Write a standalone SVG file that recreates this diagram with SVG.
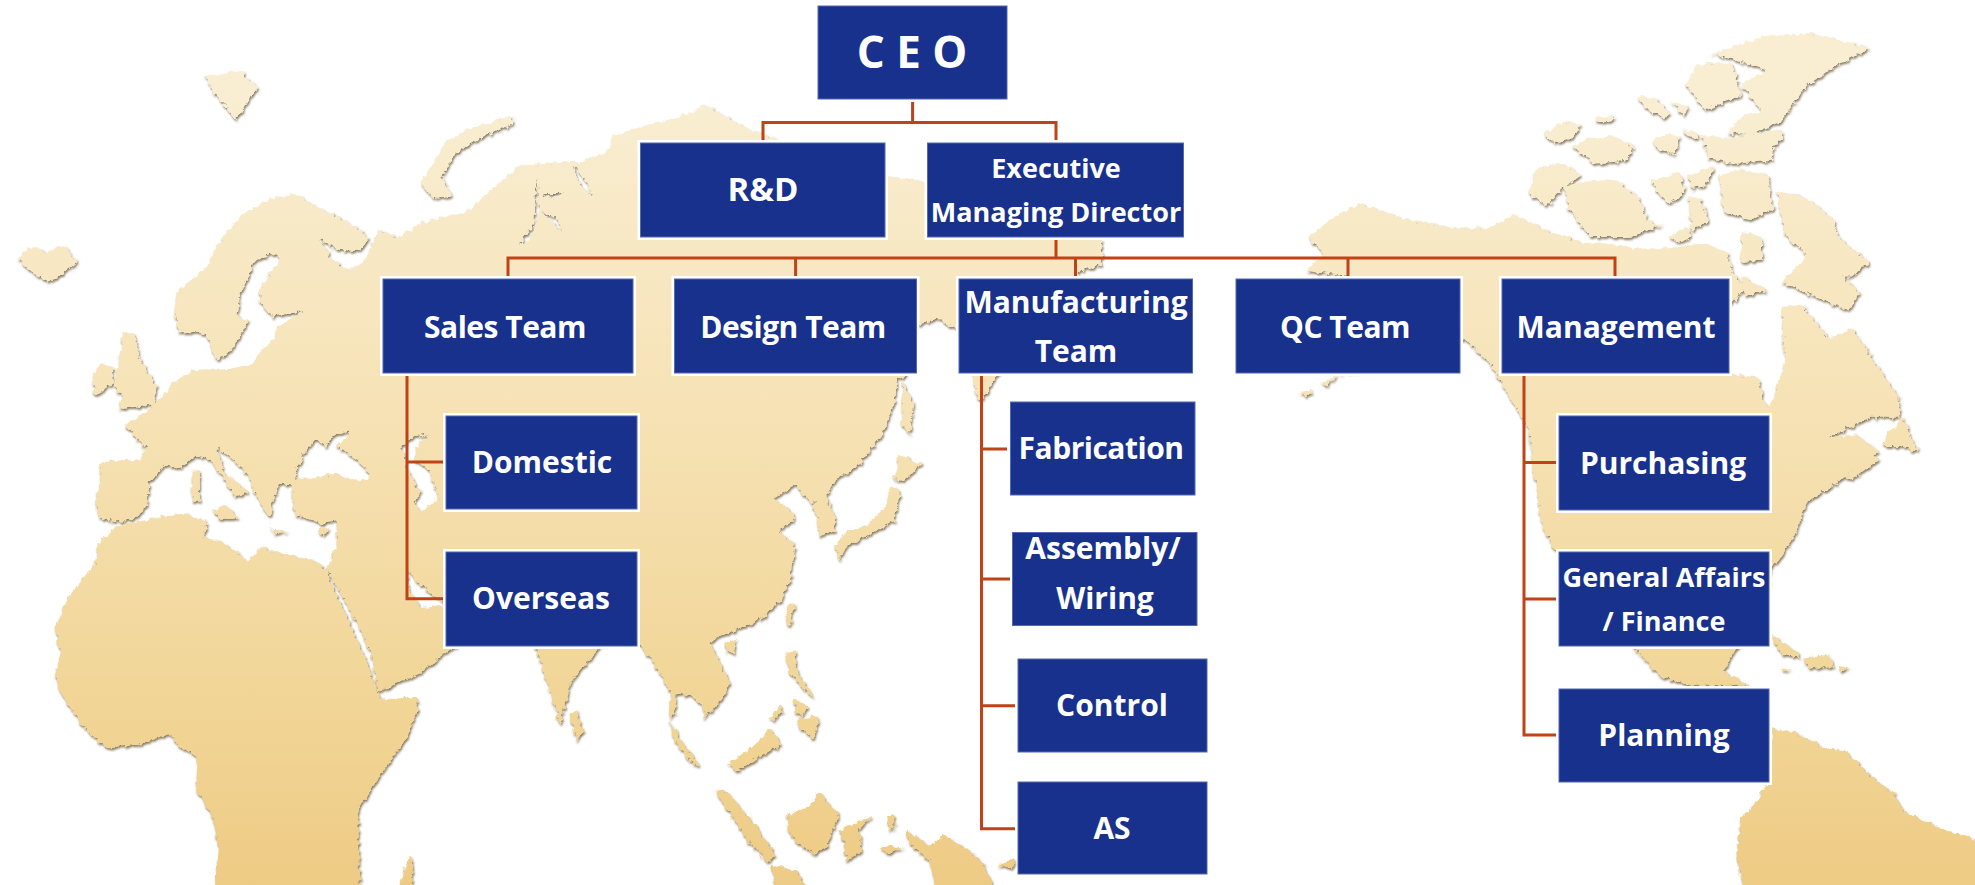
<svg xmlns="http://www.w3.org/2000/svg" width="1975" height="885" viewBox="0 0 1975 885">
<style>
text{font-family:"Open Sans","Noto Sans","Liberation Sans",sans-serif;font-weight:700;fill:#fff;text-anchor:middle;font-size:30px}
.s{font-size:27px}
.t{letter-spacing:-.5px}
.halo{fill:#fff;stroke:#fff;stroke-width:6}
.box{fill:#18318d;stroke:#5468b0;stroke-width:1}
.wire{fill:none;stroke:#bf4317;stroke-width:3;stroke-linejoin:miter}
.hole{fill:#000}
</style>
<defs>
<linearGradient id="sand" gradientUnits="userSpaceOnUse" x1="0" y1="100" x2="0" y2="885">
<stop offset="0" stop-color="#f9eed2"/><stop offset=".4" stop-color="#f6e2b5"/><stop offset=".8" stop-color="#f1d494"/><stop offset="1" stop-color="#eecb85"/>
</linearGradient>
<filter id="rough" filterUnits="userSpaceOnUse" x="0" y="0" width="1975" height="930">
<feTurbulence type="fractalNoise" baseFrequency=".2" numOctaves="3" seed="4" result="n"/>
<feDisplacementMap in="SourceGraphic" in2="n" scale="7" xChannelSelector="R" yChannelSelector="G"/>
</filter>
<filter id="edge" filterUnits="userSpaceOnUse" x="0" y="0" width="1975" height="930">
<feDropShadow dx="1" dy="2" stdDeviation=".9" flood-color="#6e5f3e" flood-opacity=".8"/>
</filter>
<mask id="land" maskUnits="userSpaceOnUse" x="0" y="0" width="1975" height="930">
<g filter="url(#rough)" fill="#fff">
<g transform="translate(0 50) scale(.42092 .53253)">
<path d="M488,50 530,45 570,38 612,70 590,95 560,130 535,105 510,85Z"/>
<path d="M45,392 70,370 110,378 150,366 185,398 150,420 115,437 80,420 55,405Z"/>
<path d="M1000,250 1030,210 1060,170 1110,150 1220,122 1215,140 1130,170 1075,200 1050,240 1075,275 1030,280Z"/>
<path d="M283,585 290,530 320,530 330,575 375,635 365,665 280,675 290,650 270,630Z"/>
<path d="M220,610 240,590 268,595 270,625 225,650Z"/>
<path d="M235,880 228,850 240,800 235,775 300,770 335,772 345,745 295,705 330,690 385,650 415,622 465,600 530,600 600,592 620,560 650,545 660,520 720,490 650,500 620,480 615,450 665,392 640,380 605,400 570,460 565,500 590,510 555,560 515,585 490,535 470,530 425,530 413,490 425,450 490,410 520,360 575,310 640,280 700,270 745,290 820,320 875,350 860,378 800,375 760,355 790,395 830,412 862,400 880,370 900,340 945,350 1020,325 1110,305 1190,295 1200,260 1240,225 1270,240 1275,300 1330,310 1340,340 1400,270 1370,215 1440,190 1480,160 1568,140 1568,1000 1090,1000 1085,1120 1060,1130 1000,1170 900,1205 880,1130 800,1005 775,975 800,930 800,885 760,890 700,870 690,815 660,815 640,880 610,840 590,800 555,770 515,745 530,790 590,830 560,840 535,810 500,770 465,762 430,785 390,780 355,815 350,850 325,880 280,885Z"/>
<path d="M225,965 235,925 280,895 360,880 440,870 490,885 485,915 530,925 590,960 620,935 670,945 750,960 775,975 790,1010 840,1090 890,1185 905,1220 990,1215 995,1240 960,1300 880,1390 850,1430 860,1650 500,1650 520,1500 505,1440 465,1390 470,1330 430,1310 400,1285 330,1305 250,1310 190,1265 140,1200 130,1175 145,1130 130,1090 160,1030Z"/>
<path d="M915,1650 965,1530 975,1515 990,1650Z"/>
<path d="M505,865 540,855 565,880 520,880Z"/>
<path d="M455,790 475,790 475,850 455,850Z"/>
<path d="M645,900 685,905 650,910Z"/>
<path d="M755,900 785,895 765,915Z"/>
</g>
<g transform="translate(400 90) scale(.39541 .50701)">
<path d="M0,290 60,260 170,240 300,150 440,140 490,200 530,120 540,90 620,70 720,50 770,30 820,50 890,80 1100,140 1235,170 1320,180 1775,296 1775,345 1725,355 1700,380 1510,565 1480,600 1465,615 1445,570 1440,500 1415,470 1390,465 1360,450 1310,465 1290,500 1280,565 1260,570 1250,620 1220,680 1160,740 1100,770 1080,800 1040,815 1000,780 945,805 990,830 1000,845 960,870 1000,900 990,960 960,1010 900,1050 830,1070 785,1090 800,1115 835,1170 825,1190 770,1240 765,1210 735,1195 700,1190 695,1230 680,1240 700,1270 760,1335 740,1330 690,1280 680,1230 685,1190 640,1130 600,1090 500,1095 350,1095 0,1000Z"/>
<path d="M340,1095 385,1200 405,1250 430,1170 505,1100 500,1000 350,1000Z"/>
<path d="M428,1230 445,1225 465,1270 445,1280Z"/>
<path d="M1270,570 1300,620 1290,680 1270,660Z"/>
<path d="M1260,720 1320,735 1280,770 1250,770Z"/>
<path d="M1240,780 1265,790 1250,850 1180,880 1130,900 1110,930 1100,900 1130,870 1180,860 1230,820Z"/>
<path d="M1040,820 1075,795 1100,840 1100,870 1060,880 1055,840Z"/>
<path d="M820,1090 850,1085 845,1110 825,1110Z"/>
<path d="M985,1010 1000,1015 985,1060 975,1040Z"/>
<path d="M975,1110 1000,1105 1005,1150 1050,1200 1030,1190 985,1150Z"/>
<path d="M1005,1240 1060,1235 1050,1280 1010,1260Z"/>
<path d="M935,1240 965,1210 970,1220 945,1245Z"/>
<path d="M995,1200 1030,1215 1020,1235 1000,1225Z"/>
<path d="M795,1380 830,1385 900,1450 950,1510 930,1525 870,1470Z"/>
<path d="M980,1430 1040,1410 1060,1385 1110,1430 1080,1490 1050,1510 1000,1480 980,1460Z"/>
<path d="M1110,1460 1195,1430 1160,1460 1170,1500 1130,1520 1120,1480Z"/>
<path d="M940,1530 1000,1540 1100,1650 960,1650Z"/>
<path d="M830,1330 900,1290 935,1260 965,1290 900,1320 850,1345Z"/>
<path d="M1280,1460 1340,1490 1380,1470 1440,1500 1480,1530 1540,1650 1370,1650 1340,1520 1290,1490Z"/>
<path d="M1212,1495 1235,1490 1275,1495 1240,1505Z"/>
<path d="M1232,1430 1250,1430 1250,1460 1235,1460Z"/>
<path d="M1510,1530 1555,1515 1550,1535Z"/>
<path class="hole" d="M345,170 352,240 330,295 300,305 340,265Z"/>
<path class="hole" d="M360,205 410,205 385,215Z"/>
<path class="hole" d="M355,240 400,255 410,280 380,255Z"/>
<path class="hole" d="M440,150 470,180 485,210 450,180Z"/>
</g>
<g transform="translate(1280 0) scale(.44324 .56441)">
<path d="M65,420 110,390 180,360 290,390 400,405 470,405 530,380 590,405 680,430 720,430 800,440 880,440 960,430 1010,450 1020,480 1050,510 1010,545 1010,660 1080,670 1090,710 1105,720 1120,690 1140,640 1130,545 1175,540 1240,600 1290,580 1340,640 1395,700 1400,740 1330,740 1240,775 1300,770 1350,800 1320,820 1230,870 1190,890 1160,950 1130,990 1110,1000 1090,1100 1030,1148 1000,1190 1060,1215 930,1215 860,1200 800,1150 640,1000 620,975 590,930 570,830 560,760 500,680 470,640 415,600 300,650 150,660 100,600 150,490 60,480 100,450Z"/>
<path d="M90,680 145,660 100,685Z"/>
<path d="M45,695 75,690 60,703Z"/>
<path d="M1370,770 1405,740 1440,800 1400,790 1360,790Z"/>
<path d="M1275,845 1340,805 1350,815 1290,850Z"/>
<path d="M1108,1125 1150,1145 1175,1165 1130,1160Z"/>
<path d="M1180,1165 1240,1160 1250,1180 1190,1185Z"/>
<path d="M1260,1180 1285,1185 1265,1190Z"/>
<path d="M1130,1185 1155,1185 1140,1190Z"/>
<path d="M1110,1290 1165,1300 1230,1325 1275,1330 1320,1365 1390,1410 1410,1440 1500,1470 1620,1500 1620,1650 1060,1650 1030,1510 1040,1450 1075,1420 1105,1385Z"/>
<path d="M1120,340 1180,345 1250,390 1260,420 1330,465 1290,490 1270,490 1310,520 1280,550 1220,530 1130,500 1170,470 1190,450 1140,420Z"/>
<path d="M640,330 700,320 760,320 810,350 830,390 860,400 790,420 700,420 650,370Z"/>
<path d="M560,340 580,295 640,290 680,310 630,340 600,365Z"/>
<path d="M595,240 640,215 680,220 660,245 620,255Z"/>
<path d="M660,260 700,245 750,240 800,260 780,285 710,290Z"/>
<path d="M710,210 755,205 750,215 720,218Z"/>
<path d="M805,170 850,175 880,200 870,210 820,190Z"/>
<path d="M885,180 925,190 910,205Z"/>
<path d="M840,250 880,235 900,245 890,275 850,265Z"/>
<path d="M910,230 940,235 945,245 915,240Z"/>
<path d="M840,320 900,305 915,340 880,360 850,340Z"/>
<path d="M920,310 980,295 960,330 930,335Z"/>
<path d="M990,310 1040,300 1100,310 1115,370 1060,390 1000,375Z"/>
<path d="M950,240 1000,245 1130,230 1135,245 1115,260 1110,285 1030,290 965,280Z"/>
<path d="M975,95 1090,65 1200,60 1330,85 1260,115 1190,150 1130,215 1060,240 1010,235 1050,200 1090,200 1040,150 1100,125Z"/>
<path d="M915,150 940,115 1020,110 1040,170 960,195Z"/>
<path d="M880,420 920,400 930,420 900,430Z"/>
<path d="M920,350 950,350 965,390 930,410Z"/>
<path d="M1040,410 1090,420 1085,460 1040,465Z"/>
<path d="M1040,490 1100,515 1050,525Z"/>
</g>
<g transform="translate(0 50) scale(.42092 .53253)">
<path class="hole" d="M700,805 720,760 750,730 775,745 790,725 835,715 800,745 850,770 880,800 860,810 790,795 740,805Z"/>
<path class="hole" d="M955,745 985,725 1020,722 990,745 985,770 1020,790 1040,840 1000,870 985,850 1000,830 970,790Z"/>
<path class="hole" d="M965,970 990,1000 1040,1030 1060,1040 1000,1050 970,1010Z"/>
</g>
</g>
</mask>
</defs>
<g id="world-map" filter="url(#edge)"><rect width="1975" height="930" fill="url(#sand)" mask="url(#land)"/></g>
<g id="connectors">
<path class="wire" d="M912.6,102V122.5M763,141V122.5H1056V141"/>
<path class="wire" d="M1056,239V258M508,277V258H1615V277M795.6,258V277M1075.5,258V277M1348,258V277"/>
<path class="wire" d="M407,376V598.7H443M407,462H443"/>
<path class="wire" d="M981.5,376V828.7H1015M981.5,449H1007M981.5,579H1010M981.5,705.7H1015"/>
<path class="wire" d="M1524,376V735H1556.7M1524,462.5H1556.7M1524,599H1556.7"/>
</g>
<g id="ceo"><rect class="box" x="818" y="6" width="189" height="93"/><text x="912" y="68" style="font-size:44px">C E O</text></g>
<g id="rnd"><rect class="halo" x="640.5" y="143" width="244.5" height="94"/><rect class="box" x="640.5" y="143" width="244.5" height="94"/><text x="763" y="201" style="font-size:33px">R&amp;D</text></g>
<g id="executive"><rect class="halo" x="927.5" y="143" width="256" height="94"/><rect class="box" x="927.5" y="143" width="256" height="94"/><text class="s" x="1056" y="178">Executive</text><text class="s" x="1056" y="222">Managing Director</text></g>
<g id="sales"><rect class="halo" x="383" y="279" width="250" height="94"/><rect class="box" x="383" y="279" width="250" height="94"/><text class="t" x="505" y="338">Sales Team</text></g>
<g id="design"><rect class="halo" x="674.5" y="279" width="242" height="94"/><rect class="box" x="674.5" y="279" width="242" height="94"/><text class="t" x="793" y="338">Design Team</text></g>
<g id="manufacturing"><rect class="halo" x="959" y="279" width="233.5" height="94"/><rect class="box" x="959" y="279" width="233.5" height="94"/><text x="1076" y="313">Manufacturing</text><text x="1076" y="362">Team</text></g>
<g id="qc"><rect class="halo" x="1236" y="279" width="224" height="94"/><rect class="box" x="1236" y="279" width="224" height="94"/><text class="t" x="1345" y="338">QC Team</text></g>
<g id="management"><rect class="halo" x="1502" y="279" width="227" height="94"/><rect class="box" x="1502" y="279" width="227" height="94"/><text x="1616" y="338">Management</text></g>
<g id="domestic"><rect class="halo" x="446" y="416" width="191" height="93"/><rect class="box" x="446" y="416" width="191" height="93"/><text x="542" y="473">Domestic</text></g>
<g id="overseas"><rect class="halo" x="446" y="552" width="191" height="94"/><rect class="box" x="446" y="552" width="191" height="94"/><text x="541" y="609">Overseas</text></g>
<g id="fabrication"><rect class="box" x="1010.5" y="402" width="184.5" height="93"/><text class="t" x="1101" y="459">Fabrication</text></g>
<g id="assembly"><rect class="box" x="1012.5" y="532.5" width="184.5" height="93"/><text x="1103" y="559">Assembly/</text><text x="1105" y="609">Wiring</text></g>
<g id="control"><rect class="box" x="1018" y="659" width="189" height="93"/><text x="1112" y="716">Control</text></g>
<g id="as"><rect class="box" x="1018" y="782" width="189" height="92"/><text x="1112" y="839">AS</text></g>
<g id="purchasing"><rect class="halo" x="1559" y="416" width="210" height="94"/><rect class="box" x="1559" y="416" width="210" height="94"/><text x="1663" y="473.5">Purchasing</text></g>
<g id="general"><rect class="halo" x="1559" y="552" width="210" height="94"/><rect class="box" x="1559" y="552" width="210" height="94"/><text class="s" x="1664" y="586.5">General Affairs</text><text class="s" x="1664" y="631">/ Finance</text></g>
<g id="planning"><rect class="halo" x="1559" y="689" width="210" height="93"/><rect class="box" x="1559" y="689" width="210" height="93"/><text x="1664" y="745.5">Planning</text></g>
</svg>
